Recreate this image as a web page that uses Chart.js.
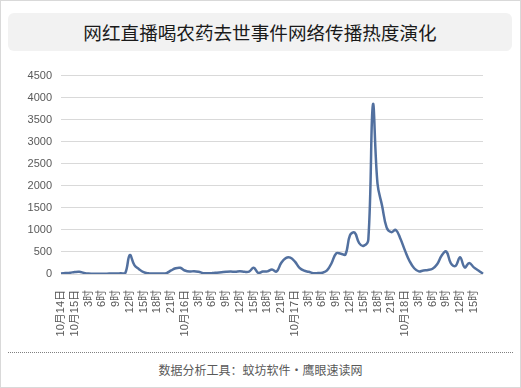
<!DOCTYPE html>
<html>
<head>
<meta charset="utf-8">
<script src="https://cdn.jsdelivr.net/npm/chart.js@4"></script>
<style>
  body { margin: 0; background: #fff; }
  #frame { position: absolute; left: 0; top: 0; width: 521px; height: 388px; box-sizing: border-box; border: 1px solid #d9d9d9; }
  #title { position: absolute; left: 8px; top: 13px; width: 504px; height: 38px; background: #f2f2f2; border-radius: 6px;
    font: 18.6px "Noto Sans CJK SC", sans-serif; color: #1a1a1a; text-align: center; line-height: 38px; }
  #box { position: absolute; left: 0; top: 60px; width: 521px; height: 290px; }
  #rule { position: absolute; left: 8px; top: 352px; width: 505px; border-top: 1px dotted #808080; }
  #foot { position: absolute; left: 0; top: 360px; width: 521px; text-align: center;
    font: 12px "Noto Sans CJK SC", sans-serif; color: #595959; line-height: 20px; }
</style>
</head>
<body>
<div id="frame"></div>
<div id="title">网红直播喝农药去世事件网络传播热度演化</div>
<div id="box"><canvas id="myChart" width="521" height="290"></canvas></div>
<div id="rule"></div>
<div id="foot">数据分析工具：蚊坊软件・鹰眼速读网</div>
<script>
// one label every 3 hours, starting 10月14日 21时
const tickLabels = ["10月14日", "10月15日", "3时", "6时", "9时", "12时", "15时", "18时", "21时",
  "10月16日", "3时", "6时", "9时", "12时", "15时", "18时", "21时",
  "10月17日", "3时", "6时", "9时", "12时", "15时", "18时", "21时",
  "10月18日", "3时", "6时", "9时", "12时", "15时"];

// hourly heat values
const heat = [10, 20, 30, 45, 50, 25, 10, 8, 8, 8,
  8, 10, 10, 15, 20, 430, 200, 110, 40, 15,
  10, 10, 10, 20, 80, 130, 140, 80, 55, 65,
  50, 20, 15, 20, 30, 40, 50, 55, 50, 60,
  50, 55, 140, 25, 55, 60, 100, 55, 250, 360,
  370, 280, 140, 75, 50, 20, 20, 30, 80, 250,
  470, 460, 440, 880, 940, 700, 640, 780, 3840, 2050,
  1550, 1050, 950, 1000, 800, 530, 290, 130, 60, 80,
  90, 120, 220, 420, 510, 240, 180, 380, 150, 250,
  150, 80, 5];

const yTicks = [0, 500, 1000, 1500, 2000, 2500, 3000, 3500, 4000, 4500];

const labels = heat.map((v, i) => (i % 3 === 0 ? tickLabels[i / 3] : ""));

const ctx = document.getElementById("myChart");
new Chart(ctx, {
  type: "line",
  data: {
    labels: labels,
    datasets: [
      {
        data: heat,
        borderColor: "#52709f",
        borderWidth: 2.5,
        pointRadius: 0,
        tension: 0.4,
        fill: false,
      },
    ],
  },
  options: {
    responsive: false,
    animation: false,
    devicePixelRatio: 1,
    layout: { padding: { top: 12, right: 38, left: 0, bottom: 0 } },
    plugins: { legend: { display: false }, tooltip: { enabled: false } },
    scales: {
      x: {
        offset: false,
        grid: { display: false },
        border: { display: false },
        ticks: {
          autoSkip: false,
          maxRotation: 90,
          minRotation: 90,
          padding: 8,
          color: "#595959",
          font: { size: 11, family: "'Liberation Sans', 'Noto Sans CJK SC', sans-serif" },
          callback: function (val, i) {
            return labels[i] === "" ? null : labels[i];
          },
        },
        afterFit: function (s) { s.height = 76; },
      },
      y: {
        min: yTicks[0],
        max: yTicks[yTicks.length - 1],
        grid: { color: "#d9d9d9", drawTicks: false },
        border: { display: false },
        ticks: {
          stepSize: yTicks[1] - yTicks[0],
          padding: 9,
          color: "#595959",
          font: { size: 11, family: "'Liberation Sans', sans-serif" },
          callback: function (v) { return String(v); },
        },
        afterFit: function (s) { s.width = 61; },
      },
    },
  },
});
</script>
</body>
</html>
